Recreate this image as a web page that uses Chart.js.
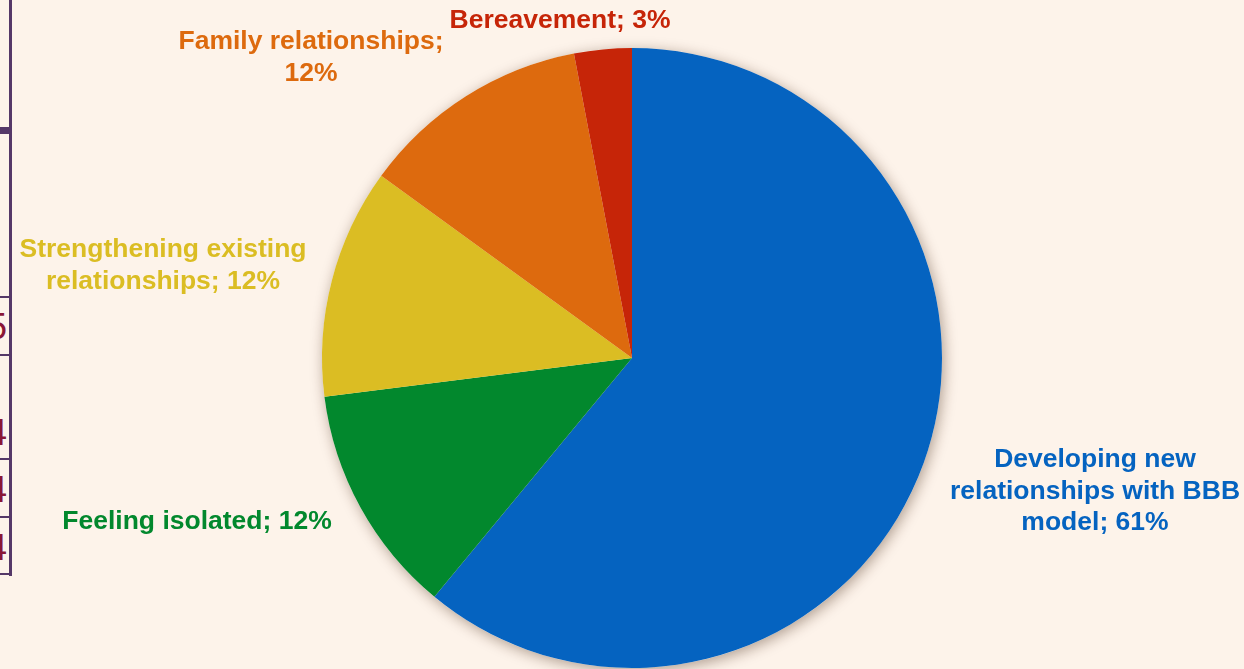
<!DOCTYPE html>
<html>
<head>
<meta charset="utf-8">
<script src="https://cdn.jsdelivr.net/npm/chart.js@4.4.1/dist/chart.umd.min.js"></script>
<style>
  html, body { margin: 0; padding: 0; background: #fdf3ea; }
  #wrap { position: relative; width: 1244px; height: 669px; overflow: hidden; }
  #pie { position: absolute; left: 0; top: 0; }
  /* leftover table edge on the left */
  .vline { position: absolute; left: 9px; top: 0; width: 3px; height: 576px; background: #553868; }
  .hline { position: absolute; left: 0; width: 11px; height: 2px; background: #553868; }
  .digits { position: absolute; left: 0; top: 0; width: 8px; height: 600px; overflow: hidden; }
  .digits span { position: absolute; right: 1px; font: 36px "Liberation Sans", Arial, sans-serif; color: #8a1636; line-height: 36px; }
</style>
</head>
<body>
<div id="wrap">
  <div class="vline"></div>
  <div class="hline" style="top:127px;height:7px;width:12px"></div>
  <div class="hline" style="top:296px"></div>
  <div class="hline" style="top:354px"></div>
  <div class="hline" style="top:458px"></div>
  <div class="hline" style="top:516px"></div>
  <div class="hline" style="top:573px"></div>
  <div class="digits">
    <span style="top:309px">5</span>
    <span style="top:415px">4</span>
    <span style="top:472px">4</span>
    <span style="top:530px">4</span>
  </div>
  <canvas id="pie" width="1244" height="669"></canvas>
</div>
<script>
// Aiheet ja osuudet (%)
const categories = [
  'Developing new relationships with BBB model',
  'Feeling isolated',
  'Strengthening existing relationships',
  'Family relationships',
  'Bereavement'
];
const shares = [61, 12, 12, 12, 3];
const colors = ['#0563c0', '#02882d', '#dbbd23', '#dd6a0e', '#c62508'];

// Tekstien rivitys ja paikat (keskikohta, ensimmäisen rivin y)
const labelLines = [
  ['Developing new', 'relationships with BBB', 'model; 61%'],
  ['Feeling isolated; 12%'],
  ['Strengthening existing', 'relationships; 12%'],
  ['Family relationships;', '12%'],
  ['Bereavement; 3%']
];
const labelPos = [
  { x: 1095, y: 460 },
  { x: 197, y: 522 },
  { x: 163, y: 250 },
  { x: 311, y: 42 },
  { x: 560, y: 21 }
];

// Varjo piirakan ympärille
const shadowPlugin = {
  id: 'pieShadow',
  beforeDatasetsDraw(chart) {
    const arc = chart.getDatasetMeta(0).data[0];
    if (!arc) return;
    const ctx = chart.ctx;
    ctx.save();
    ctx.beginPath();
    ctx.arc(arc.x, arc.y, arc.outerRadius, 0, Math.PI * 2);
    ctx.shadowColor = 'rgba(60, 30, 10, 0.4)';
    ctx.shadowBlur = 14;
    ctx.shadowOffsetX = 2;
    ctx.shadowOffsetY = 3;
    ctx.fillStyle = '#fdf3ea';
    ctx.fill();
    ctx.restore();
  }
};

// Nimiöt piirakan ulkopuolelle
const labelPlugin = {
  id: 'outsideLabels',
  afterDatasetsDraw(chart) {
    const ctx = chart.ctx;
    ctx.save();
    ctx.font = 'bold 26.5px "Liberation Sans", Arial, sans-serif';
    ctx.textAlign = 'center';
    ctx.textBaseline = 'middle';
    labelLines.forEach((lines, i) => {
      ctx.fillStyle = colors[i];
      lines.forEach((t, j) => ctx.fillText(t, labelPos[i].x, labelPos[i].y + j * 31.5));
    });
    ctx.restore();
  }
};

new Chart(document.getElementById('pie').getContext('2d'), {
  type: 'pie',
  data: {
    labels: categories,
    datasets: [{
      data: shares,
      backgroundColor: colors,
      borderWidth: 0
    }]
  },
  options: {
    responsive: false,
    animation: false,
    layout: { padding: { left: 322, right: 302, top: 48, bottom: 1 } },
    plugins: {
      legend: { display: false },
      tooltip: { enabled: false }
    }
  },
  plugins: [shadowPlugin, labelPlugin]
});
</script>
</body>
</html>
